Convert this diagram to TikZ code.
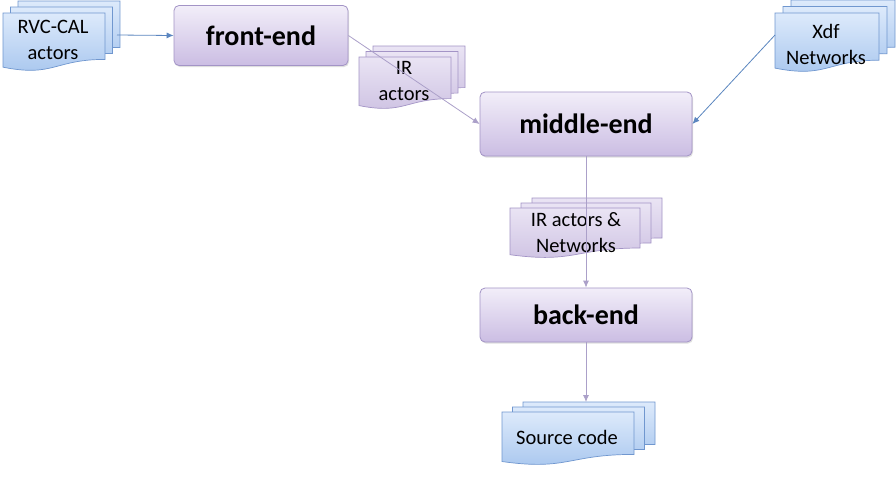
\documentclass[tikz,border=0pt]{standalone}
\usepackage{fontspec}
\setmainfont{Carlito}
\usetikzlibrary{arrows.meta,shadows}
\definecolor{bluetop}{HTML}{DDEAFB}
\definecolor{bluebot}{HTML}{A6C5EE}
\definecolor{blueline}{HTML}{7097CF}
\definecolor{purtop}{HTML}{F2EEF9}
\definecolor{purbot}{HTML}{CBBDE3}
\definecolor{purline}{HTML}{A394C6}
\definecolor{dpurtop}{HTML}{EAE4F4}
\definecolor{dpurbot}{HTML}{CDC1E2}
\definecolor{arrowpur}{HTML}{ABA0C9}
\definecolor{arrowblue}{HTML}{5B86C0}
% document shape: style, x1, y1, x2, y2
\newcommand\docshp[5]{%
  \path[#1] ({#2},{#3}) -- ({#4},{#3}) -- ({#4},{(#3)+0.80*((#5)-(#3))})
    .. controls ({0.5*((#2)+(#4))},{(#3)+0.80*((#5)-(#3))}) and ({0.5*((#2)+(#4))},{(#3)+1.11*((#5)-(#3))})
    .. ({#2},{(#3)+0.934*((#5)-(#3))}) -- cycle;}
% multi document: style, x1, y1, x2, y2, dx, dy
\newcommand\mdocshp[7]{%
  \docshp{#1}{(#2)+2*(#6)}{(#3)-2*(#7)}{(#4)+2*(#6)}{(#5)-2*(#7)}%
  \docshp{#1}{(#2)+(#6)}{(#3)-(#7)}{(#4)+(#6)}{(#5)-(#7)}%
  \docshp{#1}{#2}{#3}{#4}{#5}}
\begin{document}
\begin{tikzpicture}[x=1pt,y=-1pt,
  stage/.style={draw=purline, line width=0.8pt, rounded corners=5pt,
    top color=purtop, bottom color=purbot, inner sep=0pt,
    font=\fontsize{28}{30}\selectfont\bfseries,
    drop shadow={opacity=0.25, shadow xshift=1pt, shadow yshift=-1.5pt}},
  bluedoc/.style={draw=blueline, line width=0.7pt, top color=bluetop, bottom color=bluebot},
  purdoc/.style={draw=purline, line width=0.7pt, top color=dpurtop, bottom color=dpurbot},
  doctext/.style={align=center, inner sep=0pt, font=\fontsize{20.5}{26}\selectfont},
  bluearrow/.style={draw=arrowblue, line width=0.8pt, -{Latex[width=6pt,length=7pt]}},
  purarrow/.style={draw=arrowpur, line width=0.8pt, -{Latex[width=6pt,length=7pt]}}
]
\fill[white] (0,0) rectangle (896,480);
\useasboundingbox (0,0) rectangle (896,480);

% documents
\mdocshp{bluedoc}{3}{13}{105}{71}{7.5}{6}
\mdocshp{purdoc}{359}{57}{451}{109}{7}{5.5}
\mdocshp{bluedoc}{775}{13}{879}{72}{8}{6.5}
\mdocshp{purdoc}{510}{208}{640}{258}{11}{5}
\mdocshp{bluedoc}{502}{412}{634}{465}{10.5}{5}

\node[doctext] (rvc) at (53,40) {RVC-CAL\\actors};
\node[doctext] (ira) at (404,81) {IR\\actors};
\node[doctext] (xdf) at (826,44) {Xdf\\Networks};
\node[doctext] (iran) at (576,233) {IR actors \&\\Networks};
\node[doctext] (src) at (567,437) {Source code};

% stages
\node[stage, minimum width=174pt, minimum height=60pt] (fe) at (261,35.5) {front-end};
\node[stage, minimum width=212pt, minimum height=64pt] (me) at (586,124) {middle-end};
\node[stage, minimum width=212pt, minimum height=54pt] (be) at (586,315) {back-end};

% connectors
\coordinate (rvcR) at (117,35);
\coordinate (xdfL) at (775,35);
\coordinate (srcT) at (586,402);
\draw[bluearrow] (rvcR) -- (fe.west);
\draw[purarrow] (fe.east) -- (me.west);
\draw[bluearrow] (xdfL) -- (me.east);
\draw[purarrow] (me.south) -- (be.north);
\draw[purarrow] (be.south) -- (srcT);
\end{tikzpicture}
\end{document}
